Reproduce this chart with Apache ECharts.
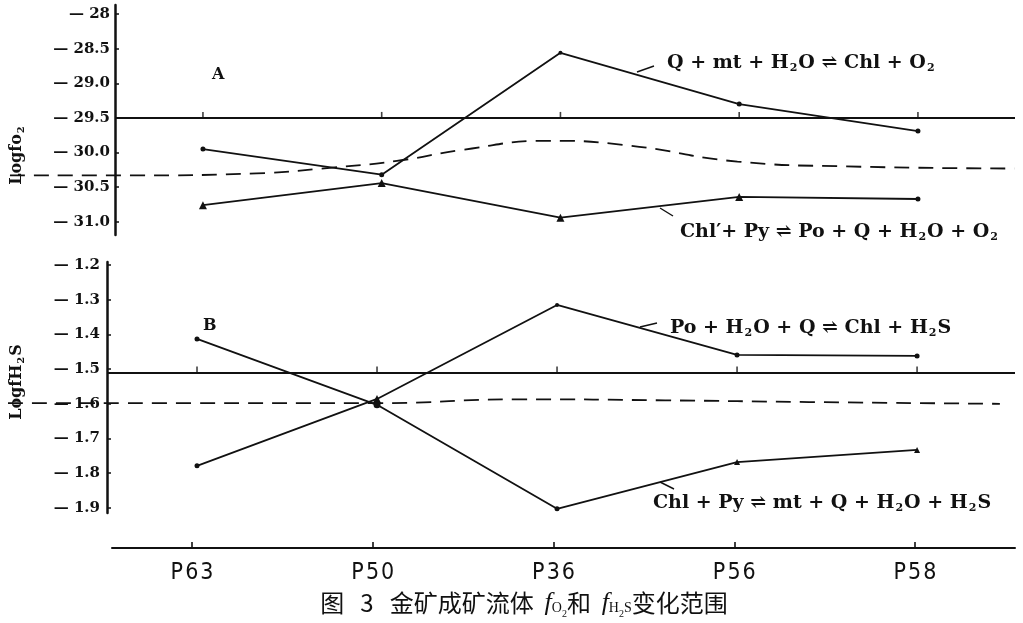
<!DOCTYPE html>
<html><head><meta charset="utf-8">
<script src="https://cdn.jsdelivr.net/npm/echarts@6/dist/echarts.min.js"></script>
<style>html,body{margin:0;padding:0;background:#fff}#c{width:1023px;height:623px}</style>
</head><body><div id="c"></div>
<script>
// ---- data ----
const categories = ['P63', 'P50', 'P36', 'P56', 'P58'];
// Panel A : log fO2
const aTicks = [-28, -28.5, -29, -29.5, -30, -30.5, -31];
const aQmt   = [-29.95, -30.32, -28.56, -29.30, -29.69];   // Q+mt+H2O = Chl+O2
const aChlPy = [-30.76, -30.44, -30.94, -30.64, -30.67];   // Chl'+Py = Po+Q+H2O+O2
const aDashX = [-1.08, -0.4, 0.3, 0.71, 1.085, 1.455, 1.925, 2.39, 2.99, 3.6, 4.54];
const aDashY = [-30.33, -30.33, -30.30, -30.22, -30.12, -29.96, -29.83, -29.90, -30.13, -30.20, -30.23];
const aRef = -29.5;
// Panel B : log fH2S
const bTicks = [-1.2, -1.3, -1.4, -1.5, -1.6, -1.7, -1.8, -1.9];
const bPoH2O = [-1.779, -1.586, -1.315, -1.459, -1.462];   // Po+H2O+Q = Chl+H2S
const bChlPy = [-1.413, -1.603, -1.903, -1.768, -1.733];   // Chl+Py = mt+Q+H2O+H2S
const bDashX = [-1.05, 0, 1, 1.8, 2.6, 3.4, 4.46];
const bDashY = [-1.598, -1.598, -1.598, -1.587, -1.590, -1.595, -1.600];
const bRef = -1.51;

// ---- build ----
const idx = categories.map((c, i) => i);
const pts = arr => arr.map((v, i) => [i, v]);
const zip = (xs, ys) => xs.map((x, i) => [x, ys[i]]);
const serif = "'DejaVu Serif', 'Liberation Serif', serif";
const black = '#111';
const A_MIN = -31.19, A_MAX = -27.87, B_MIN = -1.915, B_MAX = -1.191;

function yAxisCfg(grid, min, max, ticks, fmt, margin) {
  return {
    gridIndex: grid, type: 'value', min, max,
    axisLine: { show: true, onZero: false, lineStyle: { color: black, width: 2.5 } },
    axisTick: { show: true, inside: true, length: 4, customValues: ticks, lineStyle: { color: black, width: 1.5 } },
    axisLabel: { customValues: ticks, formatter: fmt, margin, color: black,
      fontFamily: serif, fontWeight: 'bold', fontSize: 15 },
    splitLine: { show: false }
  };
}
function hiddenX(grid, min, max) {
  return { gridIndex: grid, type: 'value', min, max, show: false,
    axisLine: { onZero: false }, splitLine: { show: false } };
}
function hiddenY(grid, min, max) {
  return { gridIndex: grid, type: 'value', min, max, show: false,
    axisLine: { onZero: false }, splitLine: { show: false } };
}
function dataLine(name, grid, data, symbols, sizes) {
  return {
    name, type: 'line', xAxisIndex: grid, yAxisIndex: grid,
    data: data.map((d, i) => ({ value: d, symbol: symbols[i], symbolSize: sizes[i] })),
    lineStyle: { color: black, width: 1.8 }, itemStyle: { color: black },
    showSymbol: true, z: 5, animation: false
  };
}
function refLine(grid, val) {
  return [{
    type: 'line', xAxisIndex: grid, yAxisIndex: grid, data: [],
    markLine: { silent: true, symbol: 'none', label: { show: false },
      lineStyle: { color: black, width: 2, type: 'solid' }, data: [{ yAxis: val }], animation: false }
  }, {
    type: 'scatter', xAxisIndex: grid, yAxisIndex: grid,
    data: idx.map(i => [i, val]), symbol: 'rect', symbolSize: [1.6, 6], symbolOffset: [0, -3],
    itemStyle: { color: black }, animation: false
  }];
}
function dashed(grid, data) {
  return { type: 'line', xAxisIndex: grid, yAxisIndex: grid, data, smooth: true, showSymbol: false,
    lineStyle: { color: black, width: 1.8, type: [15, 9] }, animation: false };
}

const chart = echarts.init(document.getElementById('c'), null, { renderer: 'canvas' });
const rich = {
  t: { fontFamily: serif, fontWeight: 'bold', fontSize: 19, fill: black },
  s: { fontFamily: serif, fontWeight: 'bold', fontSize: 11, fill: black, padding: [10, 1, 0, 1] },
  y: { fontFamily: serif, fontWeight: 'bold', fontSize: 16, fill: black },
  ys: { fontFamily: serif, fontWeight: 'bold', fontSize: 10, fill: black, padding: [9, 1, 0, 1] }
};
function txt(x, y, text, extra) {
  return Object.assign({ type: 'text', x, y, style: Object.assign({ text, rich, fill: black,
    verticalAlign: 'middle', align: 'left' }, extra || {}) });
}
function leader(x1, y1, x2, y2) {
  return { type: 'line', shape: { x1, y1, x2, y2 }, style: { stroke: black, lineWidth: 1.4 } };
}

chart.setOption({
  animation: false,
  grid: [
    { left: 115, right: 8, top: 5, height: 230 },
    { left: 107, right: 8, top: 262, height: 251 },
    { left: 112, right: 8, top: 538, height: 10 },
    { left: 8, right: 8, top: 5, height: 230 },
    { left: 8, right: 8, top: 262, height: 251 }
  ],
  xAxis: [
    hiddenX(0, -0.492, 4.543),
    hiddenX(1, -0.5, 4.544),
    { gridIndex: 2, type: 'value', min: -0.443, max: 4.553,
      axisLine: { show: true, onZero: false, lineStyle: { color: black, width: 2 } },
      axisTick: { show: true, inside: true, length: 6, customValues: idx, lineStyle: { color: black, width: 1.6 } },
      axisLabel: { customValues: idx, formatter: v => categories[Math.round(v)].split('').join('\u200a'), margin: 14, color: black,
        fontFamily: "'DejaVu Sans Condensed', 'Liberation Sans Narrow', sans-serif", fontSize: 23 },
      splitLine: { show: false } },
    hiddenX(3, -1.091, 4.543),
    hiddenX(4, -1.05, 4.544)
  ],
  yAxis: [
    yAxisCfg(0, A_MIN, A_MAX, aTicks, v => '— ' + (v === -28 ? '28' : Math.abs(v).toFixed(1)), 5),
    yAxisCfg(1, B_MIN, B_MAX, bTicks, v => '— ' + Math.abs(v).toFixed(1), 7),
    { gridIndex: 2, type: 'value', show: false, axisLine: { onZero: false } },
    hiddenY(3, A_MIN, A_MAX),
    hiddenY(4, B_MIN, B_MAX)
  ],
  series: [
    dataLine('Q+mt+H2O=Chl+O2', 0, pts(aQmt), ['circle', 'circle', 'circle', 'circle', 'circle'], [5, 5, 4, 5, 5]),
    dataLine("Chl'+Py=Po+Q+H2O+O2", 0, pts(aChlPy), ['triangle', 'triangle', 'triangle', 'triangle', 'circle'], [8, 8, 8, 8, 5]),
    dashed(3, zip(aDashX, aDashY)),
    ...refLine(0, aRef),
    dataLine('Po+H2O+Q=Chl+H2S', 1, pts(bPoH2O), ['circle', 'triangle', 'circle', 'circle', 'circle'], [5, 8, 4, 5, 5]),
    dataLine('Chl+Py=mt+Q+H2O+H2S', 1, pts(bChlPy), ['circle', 'circle', 'circle', 'triangle', 'triangle'], [5, 7, 5, 6, 6]),
    dashed(4, zip(bDashX, bDashY)),
    ...refLine(1, bRef)
  ],
  graphic: [
    txt(212, 75, '{y|A}'),
    txt(203, 326, '{y|B}'),
    txt(17, 155, '{y|Logfo}{ys|2}', { align: 'center' }),
    txt(17, 382, '{y|LogfH}{ys|2}{y|S}', { align: 'center' }),
    txt(667, 63, '{t|Q + mt + H}{s|2}{t|O ⇌ Chl + O}{s|2}'),
    txt(680, 232, "{t|Chl′+ Py ⇌ Po + Q + H}{s|2}{t|O + O}{s|2}"),
    txt(670, 328, '{t|Po + H}{s|2}{t|O + Q ⇌ Chl + H}{s|2}{t|S}'),
    txt(653, 503, '{t|Chl + Py ⇌ mt + Q + H}{s|2}{t|O + H}{s|2}{t|S}'),
    leader(637, 72, 654, 66),
    leader(660, 208, 673, 216),
    leader(640, 327, 657, 323),
    leader(660, 482, 674, 489),
    { type: 'text', x: 524, y: 603, style: {
      text: '{c|图   3   金矿成矿流体  }{f|f}{o|O}{n|2}{c|和  }{f|f}{o|H}{n|2}{o|S}{c|变化范围}',
      align: 'center', verticalAlign: 'middle',
      rich: {
        c: { fontFamily: "'Noto Sans CJK SC', sans-serif", fontSize: 24, fill: black },
        f: { fontFamily: "'Liberation Serif', serif", fontStyle: 'italic', fontSize: 26, fill: black },
        o: { fontFamily: "'Liberation Serif', serif", fontSize: 14, fill: black, padding: [10, 0, 0, 0] },
        n: { fontFamily: "'Liberation Serif', serif", fontSize: 10, fill: black, padding: [22, 0, 0, 0] }
      } } }
  ]
});
// rotate axis titles
const opt = chart.getOption();
opt.graphic[0].elements[2].rotation = Math.PI / 2;
opt.graphic[0].elements[3].rotation = Math.PI / 2;
chart.setOption({ graphic: opt.graphic });
</script></body></html>
